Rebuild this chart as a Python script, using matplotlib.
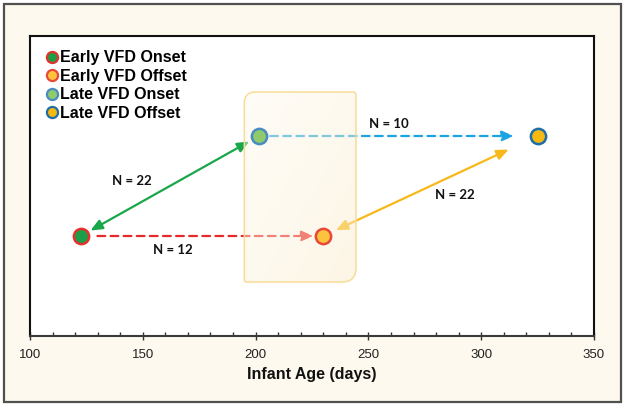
import matplotlib
matplotlib.use('Agg')
import matplotlib.pyplot as plt
from matplotlib.path import Path
from matplotlib.patches import PathPatch, Rectangle
from matplotlib.lines import Line2D
import numpy as np

# ---- data ----
series = ['Early VFD Onset', 'Early VFD Offset', 'Late VFD Onset', 'Late VFD Offset']
ages = [122.5, 230, 201.5, 325]
levels = [1, 1, 2, 2]
face_colors = ['#1c9e48', '#fcc33c', '#8fca6c', '#f7b90f']
edge_colors = ['#e1322b', '#e8483a', '#4a8cc0', '#1f6ea8']

trans_from = [0, 0, 2, 1]
trans_to = [2, 1, 3, 3]
trans_labels = ['N = 22', 'N = 12', 'N = 10', 'N = 22']
trans_colors = ['#1aa64a', '#e8282a', '#1ba3e2', '#f7b91a']
trans_dashed = [False, True, True, False]
trans_double = [True, False, False, True]
label_x = [145, 163.5, 259, 288.5]
label_y = [1.55, 0.86, 2.12, 1.41]

box_x = [195, 244.5]
box_y = [0.54, 2.44]

xticks = [100, 150, 200, 250, 300, 350]

# ---- figure ----
fig = plt.figure(figsize=(6.25, 4.07), dpi=100)
fig.patch.set_facecolor('white')
fig.patches.append(Rectangle((3.5 / 625, 5 / 407), (620.5 - 3.5) / 625, (402 - 3.5) / 407,
                             transform=fig.transFigure, fc='#fdf9ee', ec='#505050',
                             lw=1.6, zorder=-10))
ax = fig.add_axes([30 / 625, 71 / 407, 564 / 625, 300 / 407])
ax.set_facecolor('white')
ax.set_xlim(100, 350)
ax.set_ylim(0, 3)

shrinks = [(8, 8), (12, 7), (8, 17), (10, 23)]
for i in range(len(trans_from)):
    a, b = trans_from[i], trans_to[i]
    style = ('<|-|>' if trans_double[i] else '-|>') + ',head_length=0.7,head_width=0.3'
    ax.annotate('', xy=(ages[b], levels[b]), xytext=(ages[a], levels[a]),
                arrowprops=dict(arrowstyle=style, color=trans_colors[i], lw=1.6,
                                linestyle=(0, (3.5, 2.4)) if trans_dashed[i] else '-',
                                shrinkA=shrinks[i][0], shrinkB=shrinks[i][1]),
                zorder=3)
    ax.text(label_x[i], label_y[i], trans_labels[i], ha='center', va='center',
            fontsize=9.5, fontweight='bold', family='Lato', color='#111111', zorder=6)

for i in range(len(series)):
    ax.plot(ages[i], levels[i], 'o', ms=11, mfc=face_colors[i], mec=edge_colors[i],
            mew=1.8, zorder=7)

# highlight box with rounded corners (radii in pixels)
fig.canvas.draw()
def px_to_data(px, axis):
    bb = ax.get_window_extent()
    if axis == 'x':
        return px * (350 - 100) / bb.width
    return px * 3 / bb.height

x0, x1 = box_x
y0, y1 = box_y
r_tl, r_tr, r_br, r_bl = 11, 3, 14, 2
verts = [
    (x0, y0 + px_to_data(r_bl, 'y')),
    (x0, y1 - px_to_data(r_tl, 'y')),
    (x0, y1), (x0 + px_to_data(r_tl, 'x'), y1),
    (x1 - px_to_data(r_tr, 'x'), y1),
    (x1, y1), (x1, y1 - px_to_data(r_tr, 'y')),
    (x1, y0 + px_to_data(r_br, 'y')),
    (x1, y0), (x1 - px_to_data(r_br, 'x'), y0),
    (x0 + px_to_data(r_bl, 'x'), y0),
    (x0, y0), (x0, y0 + px_to_data(r_bl, 'y')),
    (x0, y0 + px_to_data(r_bl, 'y')),
]
codes = [Path.MOVETO, Path.LINETO, Path.CURVE3, Path.CURVE3, Path.LINETO,
         Path.CURVE3, Path.CURVE3, Path.LINETO, Path.CURVE3, Path.CURVE3,
         Path.LINETO, Path.CURVE3, Path.CURVE3, Path.CLOSEPOLY]
path = Path(verts, codes)
# gradient fill
grad = np.linspace(0, 1, 64)
gx, gy = np.meshgrid(grad, grad[::-1])
g = (gx + (1 - gy)) / 2
c0 = np.array([254, 250, 238]) / 255
c1 = np.array([252, 236, 200]) / 255
img = c0[None, None, :] * (1 - g[..., None]) + c1[None, None, :] * g[..., None]
rgba = np.dstack([img, np.full(g.shape, 0.45)])
im = ax.imshow(rgba, extent=(x0, x1, y0, y1), aspect='auto', zorder=5,
               interpolation='bilinear')
patch = PathPatch(path, fc='none', ec='#f8dc98', lw=1.1, zorder=5.5)
ax.add_patch(patch)
im.set_clip_path(patch)
ax.set_xlim(100, 350)
ax.set_ylim(0, 3)

# legend
handles = [Line2D([], [], ls='none', marker='o', ms=8, mfc=face_colors[i],
                  mec=edge_colors[i], mew=1.6) for i in range(len(series))]
leg = ax.legend(handles, series, loc='upper left', bbox_to_anchor=(0.03, 0.953),
                frameon=False, handlelength=0.6, handletextpad=0.25,
                labelspacing=0.22, borderaxespad=0, borderpad=0,
                prop=dict(family='Liberation Sans', weight='bold', size=11.5))

# axes styling
for s in ['left', 'top', 'right']:
    ax.spines[s].set_color('#111111')
    ax.spines[s].set_linewidth(1.5)
ax.spines['bottom'].set_color('#3a3a3a')
ax.spines['bottom'].set_linewidth(1.5)
ax.set_yticks([])
ax.set_xticks(xticks)
ax.set_xticks(np.arange(110, 350, 10), minor=True)
ax.tick_params(axis='x', which='major', direction='inout', length=6, width=1,
               color='#333333', labelsize=9.5, labelcolor='#222222', pad=6)
ax.tick_params(axis='x', which='minor', direction='in', length=3, width=1,
               color='#333333')
for t in ax.get_xticklabels():
    t.set_family('Liberation Sans')
ax.set_xlabel('Infant Age (days)', family='Liberation Sans', fontweight='bold',
              fontsize=11.5, color='#111111', labelpad=5)

fig.savefig('out.png', dpi=100, facecolor='white')
